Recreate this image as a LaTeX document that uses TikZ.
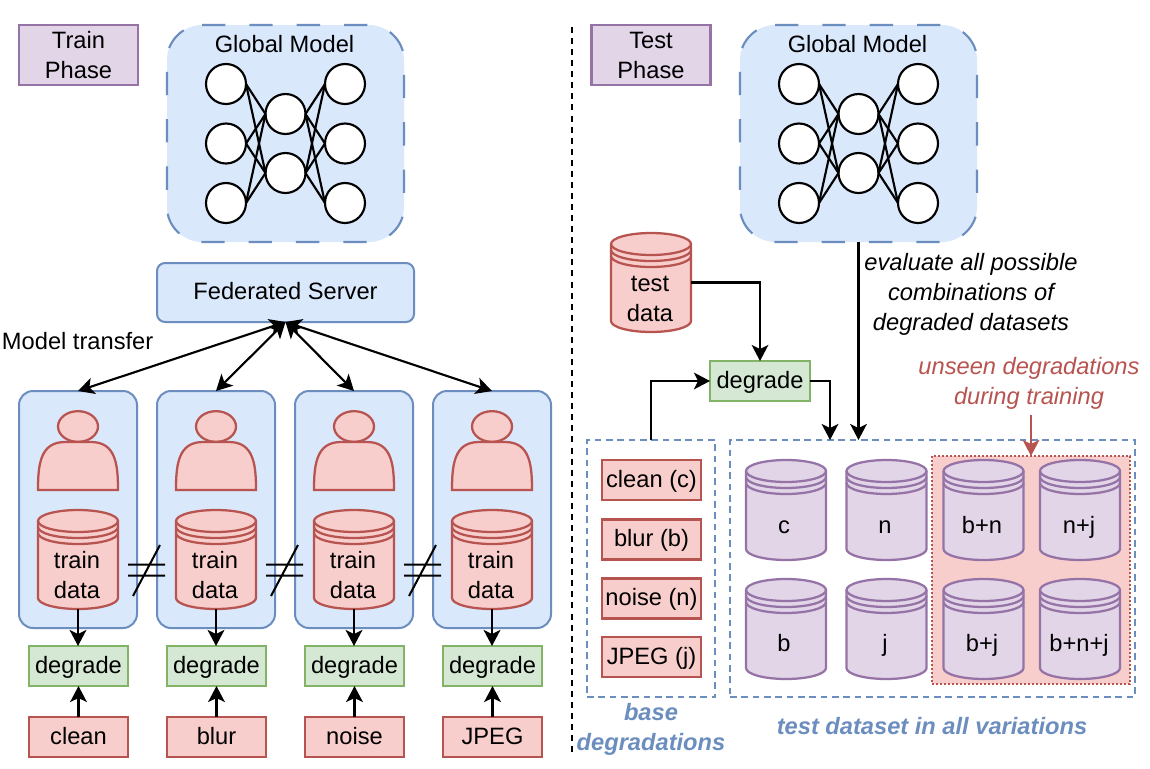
\documentclass[tikz,border=0pt]{standalone}
\usepackage{fontspec}
\setmainfont{Liberation Sans}
\usetikzlibrary{arrows.meta,shapes.geometric}
\definecolor{bluef}{HTML}{DAE8FC}\definecolor{blued}{HTML}{6C8EBF}
\definecolor{redf}{HTML}{F8CECC}\definecolor{redd}{HTML}{B85450}
\definecolor{greenf}{HTML}{D5E8D4}\definecolor{greend}{HTML}{82B366}
\definecolor{purf}{HTML}{E1D5E7}\definecolor{purd}{HTML}{9673A6}
\newcommand\fsz{\fontsize{17.75}{22.5}\selectfont}
\tikzset{
  every node/.style={font=\fsz,inner sep=0pt,outer sep=0pt,align=center},
  oneline/.style={text height=14.5pt,text depth=4pt},
  arr/.style={line width=1.6pt,-{Stealth[length=12pt,width=12.5pt,inset=3pt]}},
  arrt/.style={line width=2.1pt,-{Stealth[length=12pt,width=12.5pt,inset=3pt]}},
  arrb/.style={line width=1.6pt,{Stealth[length=12pt,width=12.5pt,inset=3pt]}-{Stealth[length=12pt,width=12.5pt,inset=3pt]}},
  redbox/.style={draw=redd,fill=redf,line width=1.7pt,oneline},
  greenbox/.style={draw=greend,fill=greenf,line width=1.7pt,oneline},
  purbox/.style={draw=purd,fill=purf,line width=1.7pt},
  clientbox/.style={draw=blued,fill=bluef,line width=1.5pt,rounded corners=10.5pt},
  serverbox/.style={draw=blued,fill=bluef,line width=1.5pt,rounded corners=6pt,oneline},
  neuron/.style={circle,draw=black,fill=white,line width=1.6pt,minimum size=30pt},
  dashbox/.style={draw=blued,line width=1.5pt,dash pattern=on 5pt off 3.5pt},
  noteblue/.style={text=blued,font=\fsz\bfseries\itshape},
}
% rectangle node given by its corners: style, name, x1, y1, x2, y2, text
\newcommand\rnode[7]{\node[#1,minimum width={(#5-#3)*.75pt},minimum height={(#6-#4)*.75pt}] (#2) at ({(#3+#5)/2},{(#4+#6)/2}) {#7};}
% cylinder: colour prefix, name, x1, y0, x2, y1
\newcommand\cyl[6]{%
  \pgfmathsetmacro\cxa{#3}\pgfmathsetmacro\cxb{#5}\pgfmathsetmacro\cm{(#3+#5)/2}%
  \pgfmathsetmacro\ck{(#5-#3)/2*.5523}\pgfmathsetmacro\cya{#4+11}\pgfmathsetmacro\cyb{#6-11}%
  \pgfmathsetmacro\cyc{#4+11*(1-.5523)}\pgfmathsetmacro\cyd{#4+11*(1+.5523)}%
  \pgfmathsetmacro\cye{#6-11*(1-.5523)}%
  \path[draw=#1d,fill=#1f,line width=1.7pt,line join=round]
    (\cxa,\cya) .. controls (\cxa,\cyc) and ({\cm-\ck},#4) .. (\cm,#4)
    .. controls ({\cm+\ck},#4) and (\cxb,\cyc) .. (\cxb,\cya)
    -- (\cxb,\cyb) .. controls (\cxb,\cye) and ({\cm+\ck},#6) .. (\cm,#6)
    .. controls ({\cm-\ck},#6) and (\cxa,\cye) .. (\cxa,\cyb) -- cycle;
  \foreach \d in {0,6,12}{
    \draw[draw=#1d,line width=1.7pt]
      (\cxa,\cya+\d) .. controls (\cxa,\cyd+\d) and ({\cm-\ck},#4+22+\d) .. (\cm,#4+22+\d)
      .. controls ({\cm+\ck},#4+22+\d) and (\cxb,\cyd+\d) .. (\cxb,\cya+\d);}
  \node[minimum width={(#5-#3)*.75pt},minimum height={(#6-#4)*.75pt}] (#2) at (\cm,{(#4+#6)/2}) {};%
}
% global model: name, x offset
\newcommand\gmodel[2]{%
  \begin{scope}[shift={(#2,0)}]
  \fill[bluef] (202,25) -- (369,25) .. controls (388,25) and (404,41) .. (404,60) -- (404,207) .. controls (404,226) and (388,242) .. (369,242) -- (202,242) .. controls (183,242) and (167,226) .. (167,207) -- (167,60) .. controls (167,41) and (183,25) .. (202,25) -- cycle;
  \draw[blued,line width=1.6pt,dash pattern=on 17.5pt off 18pt] (202,25) -- (369,25) .. controls (388,25) and (404,41) .. (404,60) -- (404,207) .. controls (404,226) and (388,242) .. (369,242) -- (202,242) .. controls (183,242) and (167,226) .. (167,207) -- (167,60) .. controls (167,41) and (183,25) .. (202,25) -- cycle;
  \node[minimum width=177.75pt,minimum height=162.75pt] (#1) at (285.5,133.5) {};
  \node[oneline] (#1t) at (284.5,45.5) {Global Model};
  \foreach \n/\x/\y in {l1/226/84,l2/226/143.5,l3/226/203,m1/285.5/114,m2/285.5/173,r1/345/84,r2/345/143.5,r3/345/203}
    \node[neuron] (#1\n) at (\x,\y) {};
  \foreach \a in {1,2,3}\foreach \b in {1,2}{
    \draw[line width=1.6pt] (#1l\a.east) -- (#1m\b.west);
    \draw[line width=1.6pt] (#1m\b.east) -- (#1r\a.west);}
  \end{scope}}
\begin{document}
\begin{tikzpicture}[x=.75pt,y=-.75pt]
\useasboundingbox (0,0) rectangle (1150,768);
\fill[white] (0,0) rectangle (1150,768);
% phases
\rnode{purbox}{trainp}{19}{25}{138}{85}{Train\\Phase}
\rnode{purbox}{testp}{591.5}{25}{710.5}{85}{Test\\Phase}
\coordinate (vt) at (572,27); \coordinate (vb) at (572,757);
\draw[line width=1.5pt,dash pattern=on 4.5pt off 3.8pt] (vt) -- (vb);
\gmodel{gma}{0}
\gmodel{gmb}{573}
\rnode{serverbox}{fs}{157}{263}{414}{322}{Federated Server}
\node[anchor=west,oneline] (mt) at (2,342) {Model transfer};
% clients
\foreach \i/\xo/\lab in {1/0/clean,2/138/blur,3/276/noise,4/414/JPEG}{
  \begin{scope}[shift={(\xo,0)}]
  \rnode{clientbox}{cl\i}{19}{391}{137}{628}{}
  \node[draw=redd,fill=redf,line width=1.7pt,ellipse,minimum width=30pt,minimum height=23pt] (h\i) at (78,426.5) {};
  \path[draw=redd,fill=redf,line width=1.7pt,line join=miter] (38,490) .. controls (38,465) and (40,442) .. (65,442) -- (91,442) .. controls (116,442) and (118,465) .. (118,490) -- cycle;
  \cyl{red}{cy\i}{38}{510}{118}{609}
  \node (cyt\i) at (77,575) {train\\data};
  \rnode{greenbox}{dg\i}{29}{646}{128}{686}{degrade}
  \rnode{redbox}{src\i}{29}{717}{128}{757}{\lab}
  \end{scope}
  \draw[arrt] (cy\i.south) -- (cy\i.south |- dg\i.north);
  \draw[arrt] (src\i.north) -- (dg\i.south);
  \draw[arrb] (fs.south) -- (cl\i.north);
}
\foreach \xo in {0,138,276}{
  \begin{scope}[shift={(\xo,0)}]
  \draw[line width=1.5pt] (128,564.5) -- (165,564.5) (128,575.5) -- (165,575.5) (133,596) -- (160,545);
  \end{scope}}
% test side
\cyl{red}{td}{611}{233}{691}{332}
\node (tdt) at (650,299) {test\\data};
\rnode{greenbox}{deg}{710}{361}{810}{401}{degrade}
\rnode{dashbox}{bb}{587}{440}{715}{697}{}
\rnode{dashbox}{tb}{730}{440}{1135}{697}{}
\rnode{redbox}{b1}{602}{460}{701}{500}{clean (c)}
\rnode{redbox}{b2}{602}{519.5}{701}{559.5}{blur (b)}
\rnode{redbox}{b3}{602}{578.5}{701}{618.5}{noise (n)}
\rnode{redbox}{b4}{602}{637}{701}{677}{JPEG (j)}
\rnode{draw=redd,fill=redf,line width=1.7pt,dash pattern=on 1.5pt off 1.5pt}{ub}{932}{456}{1130}{684}{}
\cyl{pur}{d1}{746}{460}{826}{560}
\cyl{pur}{d2}{846.5}{460}{926.5}{560}
\cyl{pur}{d3}{943.5}{460}{1023.5}{560}
\cyl{pur}{d4}{1040}{460}{1120}{560}
\cyl{pur}{d5}{746}{579}{826}{679}
\cyl{pur}{d6}{846.5}{579}{926.5}{679}
\cyl{pur}{d7}{943.5}{579}{1023.5}{679}
\cyl{pur}{d8}{1040}{579}{1120}{679}
\node[oneline] (d1t) at (784,526) {c};
\node[oneline] (d2t) at (885,526) {n};
\node[oneline] (d3t) at (982,526) {b+n};
\node[oneline] (d4t) at (1079,526) {n+j};
\node[oneline] (d5t) at (784,644) {b};
\node[oneline] (d6t) at (885,644) {j};
\node[oneline] (d7t) at (982,644) {b+j};
\node[oneline] (d8t) at (1079,644) {b+n+j};
\draw[arr] (td.east) -| (deg.north);
\draw[arr] (bb.north) |- (deg.west);
\coordinate (in1) at (830,440);
\draw[arr] (deg.east) -| (in1);
\coordinate (in2) at (858.5,440);
\draw[arr] (gmb.south) -- (in2);
\node[font=\fsz\itshape,text=black] (ev) at (971,294.5) {evaluate all possible\\combinations of\\degraded datasets};
\node[font=\fsz\itshape,text=redd] (un) at (1029,383) {unseen degradations\\during training};
\coordinate (un2) at (1031,415);
\draw[redd,arr] (un2) -- (ub.north);
\node[noteblue] (bd) at (651,729.5) {base\\degradations};
\node[noteblue] (td2) at (932,726) {test dataset in all variations};
\end{tikzpicture}
\end{document}
